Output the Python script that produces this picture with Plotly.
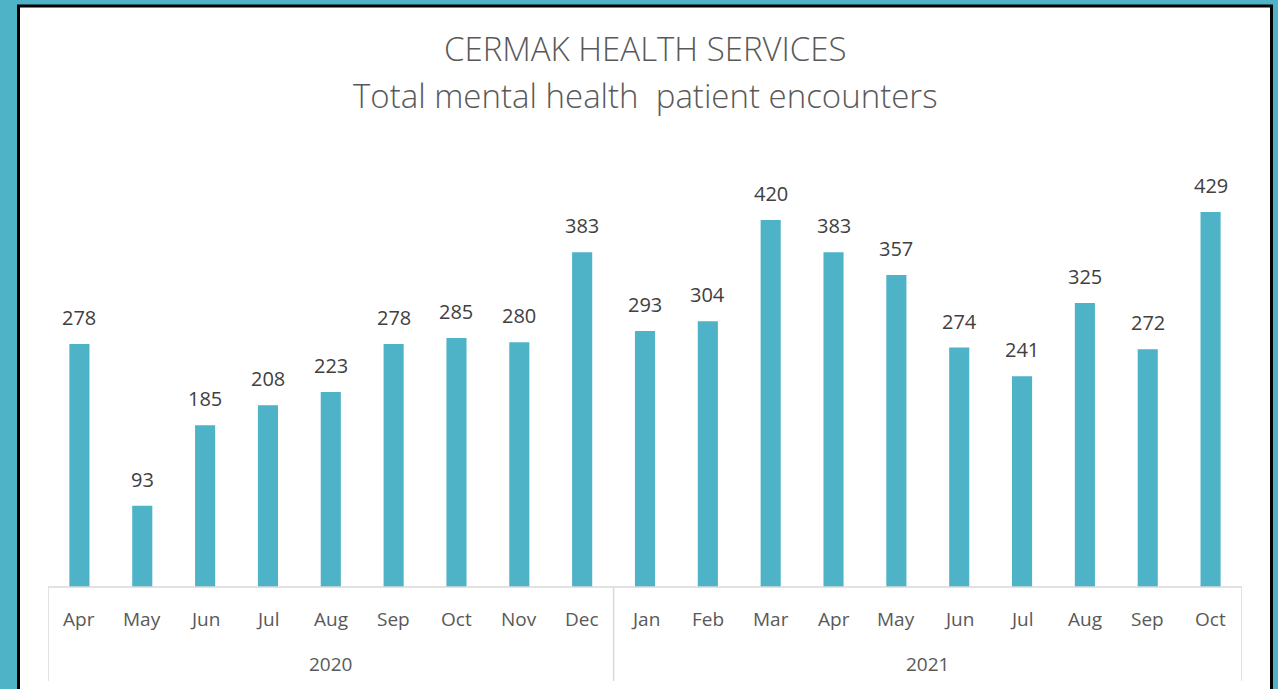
import plotly.graph_objects as go

months = ["Apr", "May", "Jun", "Jul", "Aug", "Sep", "Oct", "Nov", "Dec",
          "Jan", "Feb", "Mar", "Apr", "May", "Jun", "Jul", "Aug", "Sep", "Oct"]
encounters = [278, 93, 185, 208, 223, 278, 285, 280, 383,
              293, 304, 420, 383, 357, 274, 241, 325, 272, 429]
year_labels = ["2020", "2021"]
year_counts = [9, 10]

BAR = "#4FB3C8"
FONT = "Open Sans"
GRID = "#D9D9D9"

W, H = 1278, 689
L, R, T, B = 48, 36, 150, 102
pw, ph = W - L - R, H - T - B

xs = list(range(len(encounters)))

fig = go.Figure()
fig.add_trace(go.Bar(
    x=xs, y=encounters,
    marker=dict(color=BAR, line=dict(width=0)),
    hoverinfo="skip",
))

# data labels
for i, v in zip(xs, encounters):
    fig.add_annotation(
        x=i, y=v, xref="x", yref="y", text=str(v), showarrow=False,
        yanchor="bottom", yshift=11,
        font=dict(family=FONT, size=20, color="#404040"),
    )

# month labels
for i, m in zip(xs, months):
    fig.add_annotation(
        x=i, y=0, xref="x", yref="y", text=m, showarrow=False,
        yanchor="middle", yshift=-32,
        font=dict(family=FONT, size=19, color="#595959"),
    )

# year labels + dividers
start = 0
edges = [-0.5]
for lab, n in zip(year_labels, year_counts):
    mid = start + (n - 1) / 2
    fig.add_annotation(
        x=mid, y=0, xref="x", yref="y", text=lab, showarrow=False,
        yanchor="middle", yshift=-77,
        font=dict(family=FONT, size=19, color="#595959"),
    )
    start += n
    edges.append(start - 0.5)


def py2y(py):
    return (H - B - py) / ph


def px2x(px):
    return (px - L) / pw


# white panel with black border
fig.add_shape(type="rect", xref="paper", yref="paper",
              x0=px2x(18.5), x1=px2x(1271.5), y0=py2y(720), y1=py2y(6),
              fillcolor="white", line=dict(color="black", width=3), layer="below")

for e in edges:
    fig.add_shape(type="line", xref="x", yref="paper",
                  x0=e, x1=e, y0=0, y1=py2y(681),
                  line=dict(color=GRID, width=1.5))
fig.add_shape(type="line", xref="x", yref="paper",
              x0=edges[0], x1=edges[-1], y0=0, y1=0,
              line=dict(color=GRID, width=1.5))

# title lines
fig.add_annotation(text="CERMAK HEALTH SERVICES", xref="paper", yref="paper",
                   x=0.5, y=py2y(48), yanchor="middle", showarrow=False,
                   font=dict(family=FONT, size=33, color="#595959", weight=300))
fig.add_annotation(text="Total mental health  patient encounters", xref="paper", yref="paper",
                   x=0.5, y=py2y(95), yanchor="middle", showarrow=False,
                   font=dict(family=FONT, size=33, color="#595959", weight=300))

fig.update_layout(
    width=W, height=H,
    margin=dict(l=L, r=R, t=T, b=B, autoexpand=False),
    paper_bgcolor=BAR, plot_bgcolor="rgba(0,0,0,0)",
    bargap=0.68, showlegend=False,
    xaxis=dict(range=[-0.5, len(encounters) - 0.5], visible=False,
               showgrid=False, zeroline=False, fixedrange=True),
    yaxis=dict(range=[0, 500], visible=False, showgrid=False,
               zeroline=False, fixedrange=True),
)

fig.write_html(
    "out.html",
    config={"displayModeBar": False},
    post_script="document.body.style.margin='0';document.body.style.overflow='hidden';",
)
